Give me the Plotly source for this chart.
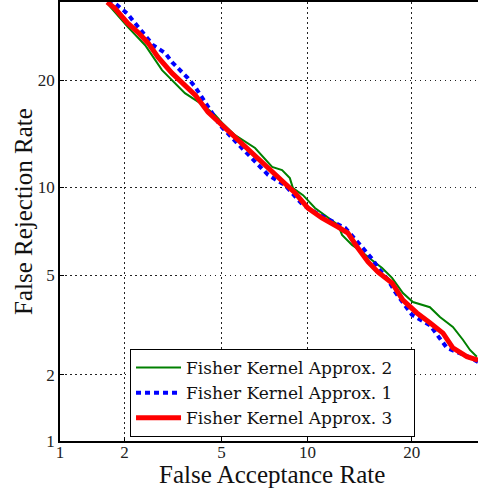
from statistics import NormalDist
import plotly.graph_objects as go

# Data (percent)
green_far = [1.67, 2.07, 2.46, 2.90, 3.60, 4.14, 4.73, 5.03, 5.62, 6.64, 7.62, 8.24, 8.75, 8.96, 9.67,
             10.56, 12.45, 12.80, 13.70, 14.64, 15.62, 16.68, 17.75, 18.97, 20.13, 22.21, 23.49, 25.20,
             26.57, 27.56, 28.53]
green_frr = [30.0, 26.7, 24.3, 21.21, 18.57, 17.49, 16.26, 15.46, 14.30, 13.14, 11.55, 11.30, 10.68, 9.94,
             9.44, 8.58, 7.54, 6.97, 6.44, 6.08, 5.69, 5.33, 4.90, 4.30, 3.97, 3.79, 3.47, 3.17, 2.81,
             2.55, 2.39]

blue_far = [1.69, 1.81, 2.05, 2.41, 2.66, 2.99, 3.19, 3.70, 3.96, 4.40, 4.94, 5.72, 6.53, 7.38, 8.43,
            9.67, 10.95, 13.07, 14.64, 15.75, 16.26, 17.31, 18.09, 20.02, 22.21, 24.41, 27.30, 28.70]
blue_frr = [30.5, 30.0, 28.6, 26.0, 24.3, 23.30, 22.18, 20.27, 19.24, 17.28, 15.24, 13.57, 12.10, 10.92,
            10.15, 8.77, 8.13, 7.37, 6.33, 5.69, 5.33, 4.82, 4.34, 3.54, 3.22, 2.60, 2.39, 2.27]

red_far = [1.67, 1.81, 2.07, 2.29, 2.53, 2.79, 3.19, 3.51, 3.96, 4.44, 5.03, 5.62, 6.26, 7.03, 7.80,
           8.43, 9.11, 10.03, 11.10, 12.45, 13.33, 14.25, 15.24, 16.26, 17.75, 18.97, 20.61, 22.21,
           23.89, 25.20, 27.13, 28.70]
red_frr = [30.2, 29.3, 27.2, 26.0, 24.6, 22.8, 20.85, 19.8, 18.35, 16.55, 15.24, 14.03, 12.97, 11.86,
           10.92, 10.30, 9.60, 8.58, 7.96, 7.42, 7.08, 6.28, 5.60, 5.14, 4.69, 4.04, 3.60, 3.29, 2.99,
           2.60, 2.39, 2.31]

tick_values = [1, 2, 5, 10, 20]
tick_labels = ["1", "2", "5", "10", "20"]
series_names = ["Fisher Kernel Approx. 2", "Fisher Kernel Approx. 1", "Fisher Kernel Approx. 3"]
x_title = "False Acceptance Rate"
y_title = "False Rejection Rate"

nd = NormalDist()


def probit(pcts):
    return [nd.inv_cdf(p / 100.0) for p in pcts]


FONT = "Liberation Serif, Times New Roman, serif"
LEGEND_FONT = "DejaVu Serif, serif"
PAD = "\u00a0" * 3

fig = go.Figure()
fig.add_trace(go.Scatter(x=probit(green_far), y=probit(green_frr), mode="lines",
                         name=series_names[0] + PAD, line=dict(color="#008000", width=2)))
fig.add_trace(go.Scatter(x=probit(blue_far), y=probit(blue_frr), mode="lines",
                         name=series_names[1] + PAD, line=dict(color="#0000ff", width=4, dash="5px,4px")))
fig.add_trace(go.Scatter(x=probit(red_far), y=probit(red_frr), mode="lines",
                         name=series_names[2] + PAD, line=dict(color="#ff0000", width=5)))

axis_common = dict(
    tickvals=probit(tick_values), ticktext=tick_labels,
    showgrid=True, gridcolor="#222", griddash="1.5px,3.5px", gridwidth=1,
    zeroline=False, showline=True, linecolor="black", linewidth=1.5,
    ticks="inside", ticklen=4, tickcolor="black",
    tickfont=dict(family=FONT, size=17, color="#222"),
)

fig.update_xaxes(range=[nd.inv_cdf(0.01), nd.inv_cdf(0.287)], mirror=True,
                 ticklabelstandoff=-5, **axis_common)
fig.update_yaxes(range=[nd.inv_cdf(0.01), nd.inv_cdf(0.302)], **axis_common)

fig.add_annotation(text=x_title, xref="paper", yref="paper", x=0.507, y=-0.0752,
                   xanchor="center", yanchor="middle", showarrow=False,
                   font=dict(family=FONT, size=25, color="#111"))
fig.add_annotation(text=y_title, xref="paper", yref="paper", x=-0.0885, y=0.5216,
                   xanchor="center", yanchor="middle", showarrow=False, textangle=-90,
                   font=dict(family=FONT, size=25, color="#111"))

fig.update_layout(
    width=478, height=494,
    margin=dict(l=60, r=0, t=2, b=53),
    plot_bgcolor="white", paper_bgcolor="white",
    font=dict(family=FONT, color="#111"),
    legend=dict(x=0.1675, y=0.2096, xanchor="left", yanchor="top",
                bgcolor="white", bordercolor="black", borderwidth=1,
                font=dict(family=LEGEND_FONT, size=17, color="#111"),
                itemwidth=45, tracegroupgap=0),
    showlegend=True,
)

fig.write_html("out.html")
